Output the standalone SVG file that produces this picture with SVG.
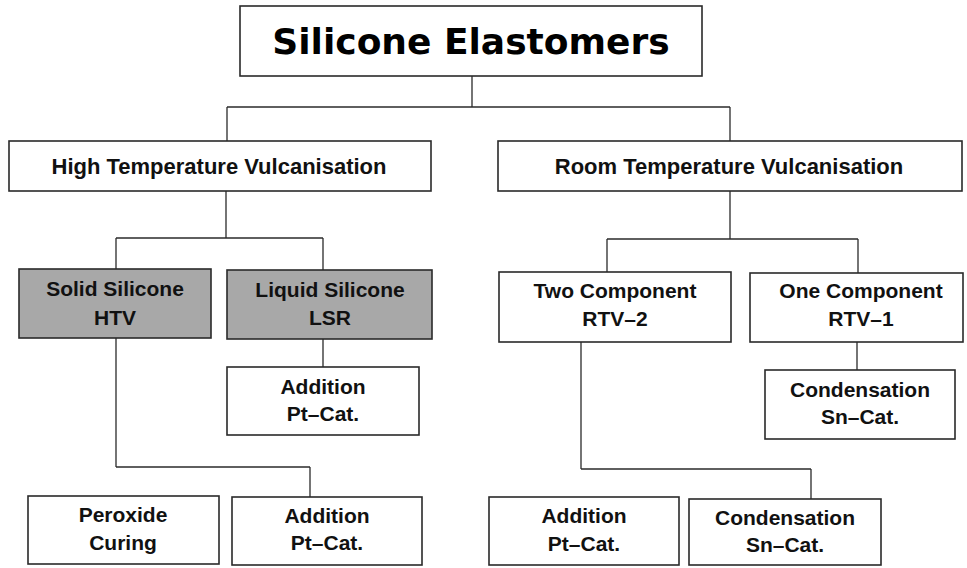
<svg xmlns="http://www.w3.org/2000/svg" width="967" height="568" viewBox="0 0 967 568">
<style>
.box{fill:#fff;stroke:#2a2a2a;stroke-width:1.6}
.grey{fill:#a8a8a8;stroke:#2a2a2a;stroke-width:1.6}
.t{font-family:"Liberation Sans",Arial,sans-serif;font-weight:bold;font-size:21px;fill:#111;text-anchor:middle}
.title{font-family:"DejaVu Sans","Liberation Sans",sans-serif;font-weight:bold;font-size:36px;fill:#000;text-anchor:middle}
.l{font-size:22px}
.conn line{stroke:#2a2a2a;stroke-width:1.3}
</style>
<rect width="967" height="568" fill="#fff"/>
<g id="connectors" class="conn">
<line x1="472" y1="76" x2="472" y2="107"/>
<line x1="227" y1="107" x2="730" y2="107"/>
<line x1="227" y1="107" x2="227" y2="141"/>
<line x1="730" y1="107" x2="730" y2="141"/>
<line x1="226" y1="191" x2="226" y2="238"/>
<line x1="116" y1="238" x2="323" y2="238"/>
<line x1="116" y1="238" x2="116" y2="269"/>
<line x1="323" y1="238" x2="323" y2="270"/>
<line x1="323" y1="339" x2="323" y2="367"/>
<line x1="116" y1="338" x2="116" y2="467"/>
<line x1="116" y1="467" x2="310" y2="467"/>
<line x1="310" y1="467" x2="310" y2="497"/>
<line x1="730" y1="191" x2="730" y2="239"/>
<line x1="607" y1="239" x2="858" y2="239"/>
<line x1="607" y1="239" x2="607" y2="272"/>
<line x1="858" y1="239" x2="858" y2="273"/>
<line x1="857" y1="342" x2="857" y2="370"/>
<line x1="581" y1="342" x2="581" y2="469"/>
<line x1="581" y1="469" x2="811" y2="469"/>
<line x1="811" y1="469" x2="811" y2="499"/>
</g>
<g id="n-root"><rect class="box" x="240" y="6" width="462" height="70"/><text class="title" x="471" y="54">Silicone Elastomers</text></g>
<g id="n-htv"><rect class="box" x="9" y="141" width="422" height="50"/><text class="t l" x="219" y="174">High Temperature Vulcanisation</text></g>
<g id="n-rtv"><rect class="box" x="498" y="141" width="464" height="50"/><text class="t l" x="729" y="174">Room Temperature Vulcanisation</text></g>
<g id="n-solid"><rect class="grey" x="19" y="269" width="192" height="69"/><text class="t" x="115" y="296">Solid Silicone</text><text class="t" x="115" y="325">HTV</text></g>
<g id="n-liquid"><rect class="grey" x="227" y="270" width="205" height="69"/><text class="t" x="330" y="297">Liquid Silicone</text><text class="t" x="330" y="325">LSR</text></g>
<g id="n-add1"><rect class="box" x="227" y="367" width="192" height="68"/><text class="t" x="323" y="394">Addition</text><text class="t" x="323" y="421">Pt–Cat.</text></g>
<g id="n-perox"><rect class="box" x="28" y="496" width="191" height="68"/><text class="t" x="123" y="522">Peroxide</text><text class="t" x="123" y="550">Curing</text></g>
<g id="n-add2"><rect class="box" x="232" y="497" width="190" height="68"/><text class="t" x="327" y="523">Addition</text><text class="t" x="327" y="550">Pt–Cat.</text></g>
<g id="n-two"><rect class="box" x="499" y="272" width="232" height="70"/><text class="t" x="615" y="298">Two Component</text><text class="t" x="615" y="326">RTV–2</text></g>
<g id="n-one"><rect class="box" x="750" y="273" width="213" height="69"/><text class="t" x="861" y="298">One Component</text><text class="t" x="861" y="326">RTV–1</text></g>
<g id="n-cond1"><rect class="box" x="765" y="370" width="190" height="69"/><text class="t" x="860" y="397">Condensation</text><text class="t" x="860" y="424">Sn–Cat.</text></g>
<g id="n-add3"><rect class="box" x="489" y="497" width="190" height="68"/><text class="t" x="584" y="523">Addition</text><text class="t" x="584" y="551">Pt–Cat.</text></g>
<g id="n-cond2"><rect class="box" x="689" y="499" width="192" height="66"/><text class="t" x="785" y="525">Condensation</text><text class="t" x="785" y="552">Sn–Cat.</text></g>
</svg>
